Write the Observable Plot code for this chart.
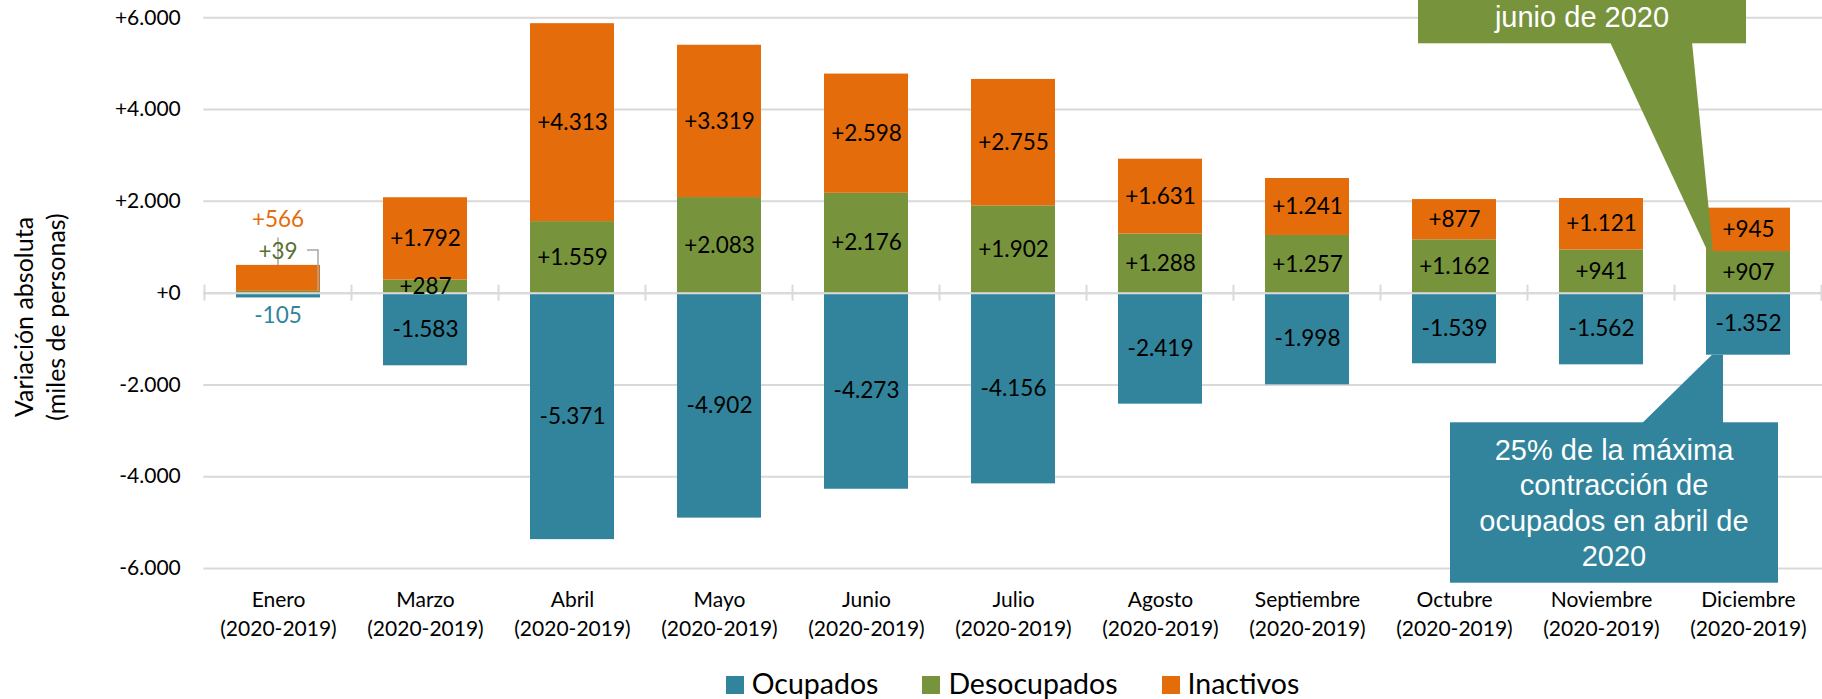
<!DOCTYPE html>
<html>
<head>
<meta charset="utf-8">
<script src="https://cdn.jsdelivr.net/npm/d3@7"></script>
<script src="https://cdn.jsdelivr.net/npm/@observablehq/plot@0.6"></script>
<style>
  body { margin: 0; background: #fff; }
  #wrap { position: relative; width: 1822px; height: 699px; overflow: hidden; font-family: Lato, sans-serif; }
  #chart svg { display: block; }
  #legend { position: absolute; left: 203px; width: 1619px; top: 669px; display: flex; justify-content: center; gap: 44px;
            font-family: Lato, sans-serif; font-size: 28.5px; line-height: 28.5px; color: #000; }
  .item { white-space: nowrap; }
  .sw { display: inline-block; width: 18px; height: 18px; margin-right: 8px; vertical-align: baseline; }
</style>
</head>
<body>
<div id="wrap"><div id="chart"></div><div id="legend"></div></div>
<script>
// ---- data ----
const months = ["Enero", "Marzo", "Abril", "Mayo", "Junio", "Julio", "Agosto", "Septiembre", "Octubre", "Noviembre", "Diciembre"];
const periodLabel = "(2020-2019)";
const ocupados    = [-105, -1583, -5371, -4902, -4273, -4156, -2419, -1998, -1539, -1562, -1352];
const desocupados = [39, 287, 1559, 2083, 2176, 1902, 1288, 1257, 1162, 941, 907];
const inactivos   = [566, 1792, 4313, 3319, 2598, 2755, 1631, 1241, 877, 1121, 945];
const seriesNames  = ["Ocupados", "Desocupados", "Inactivos"];
const seriesColors = ["#31849B", "#77933C", "#E46C0A"];
const yTicks = [-6000, -4000, -2000, 0, 2000, 4000, 6000];
const yTitle = ["Variación absoluta", "(miles de personas)"];
const calloutGreen = ["junio de 2020"];
const calloutTeal = ["25% de la máxima", "contracción de", "ocupados en abril de", "2020"];

const seriesValues = [ocupados, desocupados, inactivos];
const rows = [];
months.forEach((m, i) => seriesNames.forEach((s, j) => rows.push({month: m, series: s, value: seriesValues[j][i]})));

const fmt = v => (v < 0 ? "-" : "+") + d3.format(",")(Math.abs(v)).replace(/,/g, ".");

const chart = Plot.plot({
  width: 1822,
  height: 650,
  marginLeft: 203.3,
  marginRight: 0,
  marginTop: 17.3,
  marginBottom: 82,
  style: {fontFamily: "Lato, sans-serif", fontSize: "21px", color: "#000", background: "#fff", overflow: "visible"},
  x: {domain: months, paddingInner: 0.43, paddingOuter: 0.215, label: null},
  y: {domain: [-6000, 6000], label: null},
  color: {domain: seriesNames, range: seriesColors},
  marks: [
    Plot.gridY(yTicks, {stroke: "#D9D9D9", strokeOpacity: 1, strokeWidth: 2}),
    Plot.axisY(yTicks, {tickSize: 0, tickPadding: 23, tickFormat: fmt, fontSize: 21, fill: "#000"}),
    Plot.axisX({tickSize: 0, tickPadding: 18.5, tickFormat: d => d + "\n" + periodLabel, fontSize: 21, lineHeight: 1.357, fill: "#000"}),
    Plot.barY(rows, {x: "month", y: "value", fill: "series", z: "series"}),
    Plot.ruleY([0], {stroke: "#D9D9D9", strokeWidth: 2}),
    Plot.text(rows, Plot.stackY({filter: d => d.month !== "Enero", x: "month", y: "value", z: "series",
      text: d => fmt(d.value), fontSize: 22.5, fill: "#000"}))
  ]
});
document.getElementById("chart").appendChild(chart);

// ---- annotations positioned through the plot's own scales ----
const xs = chart.scale("x"), ys = chart.scale("y");
const step = xs.step, bw = xs.bandwidth;
const cx = m => xs.apply(m) + bw / 2;
const Y = v => ys.apply(v);
const svg = d3.select(chart);

// category tick marks on the zero line
const g0 = svg.append("g");
for (let i = 0; i <= months.length; i++) {
  const x = cx(months[0]) - step / 2 + i * step;
  g0.append("line").attr("x1", x).attr("x2", x).attr("y1", Y(0) - 8).attr("y2", Y(0) + 8)
    .attr("stroke", "#D9D9D9").attr("stroke-width", 2);
}

// Enero labels (outside the bar)
const e = cx("Enero");
const eTop = Y(desocupados[0] + inactivos[0]);
const ge = svg.append("g").attr("font-family", "Lato, sans-serif").attr("font-size", 22.5).attr("text-anchor", "middle");
ge.append("line").attr("x1", e).attr("x2", e).attr("y1", eTop - 27.5).attr("y2", eTop).attr("stroke", "#A6A6A6").attr("stroke-width", 1.5);
ge.append("polyline").attr("points", `${e + 29},${eTop - 15} ${e + 40},${eTop - 15} ${e + 40},${Y(0) - 2}`)
  .attr("fill", "none").attr("stroke", "#A6A6A6").attr("stroke-width", 1.5);
ge.append("text").attr("x", e).attr("y", eTop - 46).attr("dy", "0.36em").attr("fill", "#E46C0A").text(fmt(inactivos[0]));
ge.append("text").attr("x", e).attr("y", eTop - 14).attr("dy", "0.36em").attr("fill", "#5A7030").text(fmt(desocupados[0]));
ge.append("text").attr("x", e).attr("y", Y(ocupados[0]) + 17).attr("dy", "0.36em").attr("fill", "#31849B").text(fmt(ocupados[0]));

// y-axis title
const gt = svg.append("g").attr("font-family", "Lato, sans-serif").attr("font-size", 25).attr("text-anchor", "middle").attr("fill", "#000");
gt.append("text").attr("transform", "translate(33.3,317) rotate(-90)").text(yTitle[0]);
gt.append("text").attr("transform", "translate(65,317) rotate(-90)").text(yTitle[1]);

// callouts
const cD = cx("Diciembre");
const gc = svg.append("g").attr("font-family", "'Liberation Sans', Arial, sans-serif").attr("font-size", 29).attr("text-anchor", "middle").attr("fill", "#fff");
// green
const gTip = Y(desocupados[10]);
gc.append("rect").attr("x", cD - 330).attr("y", -60).attr("width", 328).attr("height", 103.3).attr("fill", "#77933C");
gc.append("polygon").attr("points", `${cD - 138},${42} ${cD - 41},${gTip - 1} ${cD - 35},${gTip + 1} ${cD - 56},${42}`).attr("fill", "#77933C");
calloutGreen.forEach((t, i) => gc.append("text").attr("x", cD - 166).attr("y", 26.7 - (calloutGreen.length - 1 - i) * 35.3).text(t));
// teal
const tTip = Y(ocupados[10]);
const tTop = tTip + 67.6;
gc.append("rect").attr("x", cD - 298).attr("y", tTop).attr("width", 328).attr("height", 160.4).attr("fill", "#31849B");
gc.append("polygon").attr("points", `${cD - 106},${tTop + 1} ${cD - 36},${tTip} ${cD - 25},${tTip} ${cD - 25},${tTop + 1}`).attr("fill", "#31849B");
calloutTeal.forEach((t, i) => gc.append("text").attr("x", cD - 134).attr("y", tTop + 37.7 + i * 35.3).text(t));

// legend
const lg = d3.select("#legend");
seriesNames.forEach((s, i) => {
  const it = lg.append("span").attr("class", "item");
  it.append("span").attr("class", "sw").style("background", seriesColors[i]);
  it.append("span").text(s);
});
</script>
</body>
</html>
